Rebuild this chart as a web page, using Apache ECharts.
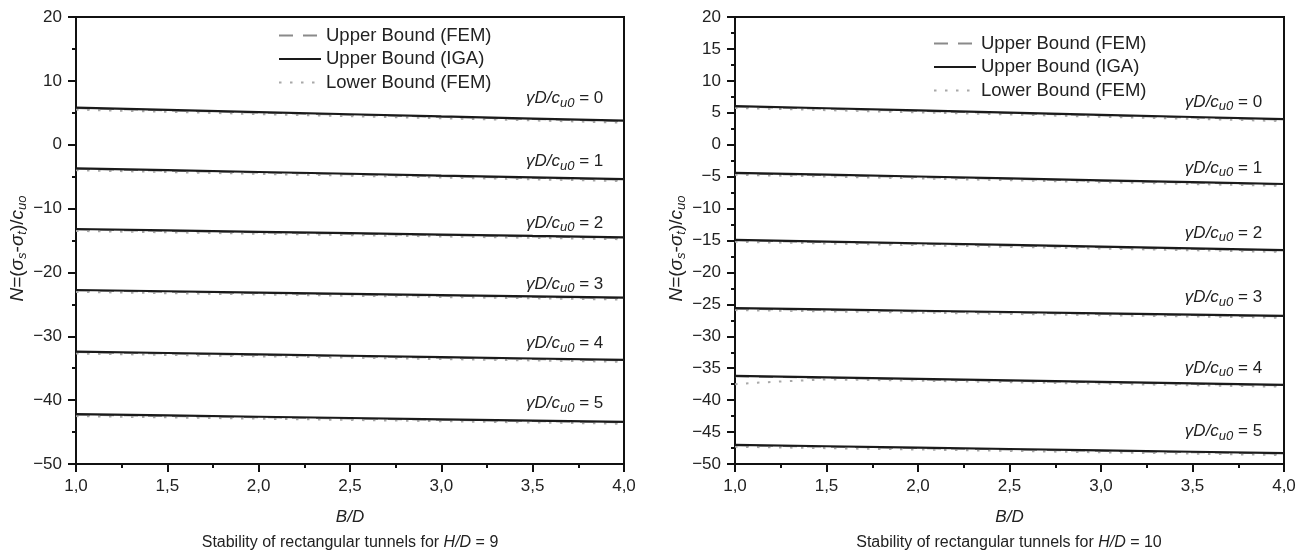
<!DOCTYPE html>
<html><head><meta charset="utf-8">
<script src="https://cdn.jsdelivr.net/npm/echarts@6/dist/echarts.min.js"></script>
<style>html,body{margin:0;padding:0;background:#fff}#c{width:1309px;height:560px}</style>
</head><body><div id="c"></div>
<script>
// ---------- data ----------
const bd = [1.0, 1.5, 2.0, 2.5, 3.0, 3.5, 4.0];
const gammaLabels = ['0', '1', '2', '3', '4', '5'];
const xTicks = [1.0, 1.5, 2.0, 2.5, 3.0, 3.5, 4.0];
const h9_yTicks = [-50, -40, -30, -20, -10, 0, 10, 20];
const h10_yTicks = [-50, -45, -40, -35, -30, -25, -20, -15, -10, -5, 0, 5, 10, 15, 20];

// H/D = 9
const h9_iga = [
  [5.80, 5.45, 5.10, 4.77, 4.43, 4.10, 3.76],
  [-3.70, -3.98, -4.27, -4.55, -4.84, -5.12, -5.40],
  [-13.20, -13.42, -13.64, -13.86, -14.07, -14.29, -14.50],
  [-22.75, -22.95, -23.15, -23.35, -23.55, -23.75, -23.95],
  [-32.40, -32.62, -32.84, -33.05, -33.27, -33.48, -33.70],
  [-42.20, -42.40, -42.60, -42.80, -43.00, -43.20, -43.40]
];
const h9_ubFem = [
  [5.70, 5.36, 5.01, 4.67, 4.34, 4.00, 3.67],
  [-3.80, -4.08, -4.37, -4.65, -4.94, -5.22, -5.50],
  [-13.30, -13.52, -13.74, -13.96, -14.17, -14.39, -14.60],
  [-22.85, -23.05, -23.25, -23.45, -23.65, -23.85, -24.05],
  [-32.50, -32.72, -32.94, -33.15, -33.37, -33.58, -33.80],
  [-42.30, -42.50, -42.70, -42.90, -43.10, -43.30, -43.50]
];
const h9_lbFem = [
  [5.50, 5.15, 4.80, 4.47, 4.13, 3.80, 3.46],
  [-4.00, -4.28, -4.57, -4.85, -5.14, -5.42, -5.70],
  [-13.50, -13.72, -13.94, -14.16, -14.37, -14.59, -14.80],
  [-23.05, -23.25, -23.45, -23.65, -23.85, -24.05, -24.25],
  [-32.70, -32.92, -33.14, -33.35, -33.57, -33.78, -34.00],
  [-42.50, -42.70, -42.90, -43.10, -43.30, -43.50, -43.70]
];

// H/D = 10
const h10_iga = [
  [6.05, 5.71, 5.37, 5.03, 4.68, 4.34, 4.00],
  [-4.40, -4.69, -4.98, -5.27, -5.57, -5.86, -6.15],
  [-14.90, -15.17, -15.43, -15.70, -15.97, -16.23, -16.50],
  [-25.60, -25.80, -26.00, -26.20, -26.40, -26.60, -26.80],
  [-36.20, -36.43, -36.67, -36.90, -37.13, -37.37, -37.60],
  [-47.00, -47.22, -47.43, -47.65, -47.87, -48.08, -48.30]
];
const h10_ubFem = [
  [5.95, 5.61, 5.27, 4.93, 4.58, 4.24, 3.90],
  [-4.50, -4.79, -5.08, -5.37, -5.67, -5.96, -6.25],
  [-15.00, -15.27, -15.53, -15.80, -16.07, -16.33, -16.60],
  [-25.70, -25.90, -26.10, -26.30, -26.50, -26.70, -26.90],
  [-36.30, -36.53, -36.77, -37.00, -37.23, -37.47, -37.70],
  [-47.10, -47.32, -47.53, -47.75, -47.97, -48.18, -48.40]
];
const h10_lbFem = [
  [5.75, 5.41, 5.07, 4.73, 4.38, 4.04, 3.70],
  [-4.70, -4.99, -5.28, -5.57, -5.87, -6.16, -6.45],
  [-15.20, -15.47, -15.73, -16.00, -16.27, -16.53, -16.80],
  [-25.90, -26.10, -26.30, -26.50, -26.70, -26.90, -27.10],
  null,
  [-47.30, -47.52, -47.73, -47.95, -48.17, -48.38, -48.60]
];
const h10_lbFem_g4_bd = [1.0, 1.1, 1.2, 1.3, 1.5, 2.0, 2.5, 3.0, 3.5, 4.0];
const h10_lbFem_g4 = [-37.50, -37.30, -37.15, -37.00, -36.75, -36.95, -37.20, -37.43, -37.67, -37.90];

// ---------- styling ----------
const FONT = '"Liberation Sans", Arial, Helvetica, sans-serif';
const TXT = '#222';
const NAMES = ['Upper Bound (FEM)', 'Upper Bound (IGA)', 'Lower Bound (FEM)'];
const labelDy = [[-20, -16, -13, -12, -15, -17], [-15, -14, -15, -17, -15, -20]];
const labelDx = [32, 31];

const annRich = {
  g: {fontFamily: FONT, fontStyle: 'italic', fontSize: 17, color: TXT, lineHeight: 22},
  s: {fontFamily: FONT, fontStyle: 'italic', fontSize: 13, color: TXT, lineHeight: 12, verticalAlign: 'bottom'},
  n: {fontFamily: FONT, fontSize: 17, color: TXT, lineHeight: 22}
};

function pairs(xs, ys) { return xs.map((x, j) => [x, ys[j]]); }

function buildSeries(g, iga, ub, lb, lbSpecialX, lbSpecialY) {
  const out = [];
  for (let i = 0; i < iga.length; i++) {
    out.push({
      type: 'line', name: NAMES[0], xAxisIndex: g, yAxisIndex: g,
      data: pairs(bd, ub[i]), symbol: 'none', silent: true, z: 2,
      lineStyle: {color: '#8a8a8a', width: 1.6, type: [14, 10]},
      itemStyle: {color: '#8a8a8a'}
    });
    const lbData = lb[i] ? pairs(bd, lb[i]) : pairs(lbSpecialX, lbSpecialY);
    out.push({
      type: 'line', name: NAMES[2], xAxisIndex: g, yAxisIndex: g,
      data: lbData, symbol: 'none', silent: true, z: 3,
      lineStyle: {color: '#a8a8a8', width: 2, type: [2.5, 8.5]},
      itemStyle: {color: '#a8a8a8'}
    });
    out.push({
      type: 'line', name: NAMES[1], xAxisIndex: g, yAxisIndex: g,
      data: pairs(bd, iga[i]), symbol: 'none', silent: true, z: 4,
      lineStyle: {color: '#1a1a1a', width: 2.2, type: 'solid'},
      itemStyle: {color: '#1a1a1a'},
      markPoint: {
        silent: true, symbol: 'circle', symbolSize: 0, animation: false,
        data: [{
          coord: [bd[5], iga[i][5]],
          label: {
            show: true, position: 'inside', offset: [labelDx[g], labelDy[g][i]],
            formatter: '{g|γD/c}{s|u0}{n| = ' + gammaLabels[i] + '}',
            rich: annRich
          }
        }]
      }
    });
  }
  return out;
}

const fmtX = v => v.toFixed(1).replace('.', ',');
const fmtY = v => String(v).replace('-', '\u2212');

const yNameRich = {
  i: {fontFamily: FONT, fontStyle: 'italic', fontSize: 19, color: TXT, lineHeight: 23},
  r: {fontFamily: FONT, fontSize: 19, color: TXT, lineHeight: 23},
  s: {fontFamily: FONT, fontStyle: 'italic', fontSize: 13, color: TXT, lineHeight: 13, verticalAlign: 'bottom'}
};
const yNameText = '{i|N}{r|=(}{i|σ}{s|s}{r|-}{i|σ}{s|t}{r|)/}{i|c}{s|uo}';

function xAxis(g) {
  return {
    type: 'value', gridIndex: g, min: xTicks[0], max: xTicks[xTicks.length - 1],
    interval: xTicks[1] - xTicks[0],
    name: 'B/D', nameLocation: 'middle', nameGap: 45,
    nameTextStyle: {fontFamily: FONT, fontStyle: 'italic', fontSize: 17, color: TXT},
    axisLine: {show: true, onZero: false, lineStyle: {color: '#111', width: 2}},
    axisTick: {show: true, inside: false, length: 8, lineStyle: {color: '#111', width: 2}},
    minorTick: {show: true, splitNumber: 2, length: 4, lineStyle: {color: '#111', width: 2}},
    splitLine: {show: false}, minorSplitLine: {show: false},
    axisLabel: {formatter: fmtX, fontFamily: FONT, fontSize: 17, color: TXT, margin: 14}
  };
}
function yAxis(g, ticks) {
  return {
    type: 'value', gridIndex: g, min: ticks[0], max: ticks[ticks.length - 1],
    interval: ticks[1] - ticks[0],
    name: yNameText, nameLocation: 'middle', nameRotate: 90, nameGap: 43,
    nameTextStyle: {rich: yNameRich, padding: [0, 16, 0, 0]},
    axisLine: {show: true, onZero: false, lineStyle: {color: '#111', width: 2}},
    axisTick: {show: true, inside: false, length: 8, lineStyle: {color: '#111', width: 2}},
    minorTick: {show: true, splitNumber: 2, length: 4, lineStyle: {color: '#111', width: 2}},
    splitLine: {show: false}, minorSplitLine: {show: false},
    axisLabel: {formatter: fmtY, fontFamily: FONT, fontSize: 17, color: TXT, margin: 14}
  };
}

function legend(left, top) {
  return {
    orient: 'vertical', left: left, top: top, padding: 0,
    itemWidth: 42, itemHeight: 14, itemGap: 4.5,
    data: NAMES, selectedMode: false,
    itemStyle: {color: 'transparent', borderColor: 'transparent', borderWidth: 0},
    textStyle: {fontFamily: FONT, fontSize: 18.5, color: TXT}
  };
}

const capRich = {
  r: {fontFamily: FONT, fontSize: 16, fontWeight: 'normal', color: TXT, lineHeight: 18},
  i: {fontFamily: FONT, fontSize: 16, fontWeight: 'normal', fontStyle: 'italic', color: TXT, lineHeight: 18}
};

const chart = echarts.init(document.getElementById('c'), null, {renderer: 'canvas'});
chart.setOption({
  animation: false,
  backgroundColor: '#fff',
  title: [
    {text: '{r|Stability of rectangular tunnels for }{i|H/D}{r| = 9}', left: 350, top: 534, textAlign: 'center',
     padding: 0, textStyle: {fontWeight: 'normal', rich: capRich}},
    {text: '{r|Stability of rectangular tunnels for }{i|H/D}{r| = 10}', left: 1009, top: 534, textAlign: 'center',
     padding: 0, textStyle: {fontWeight: 'normal', rich: capRich}}
  ],
  legend: [legend(278, 26), legend(933, 34)],
  grid: [
    {left: 76, top: 17, width: 548, height: 447, show: true, borderColor: '#111', borderWidth: 2, backgroundColor: 'transparent'},
    {left: 735, top: 17, width: 549, height: 447, show: true, borderColor: '#111', borderWidth: 2, backgroundColor: 'transparent'}
  ],
  xAxis: [xAxis(0), xAxis(1)],
  yAxis: [yAxis(0, h9_yTicks), yAxis(1, h10_yTicks)],
  series: [].concat(
    buildSeries(0, h9_iga, h9_ubFem, h9_lbFem, null, null),
    buildSeries(1, h10_iga, h10_ubFem, h10_lbFem, h10_lbFem_g4_bd, h10_lbFem_g4)
  )
});
</script></body></html>
